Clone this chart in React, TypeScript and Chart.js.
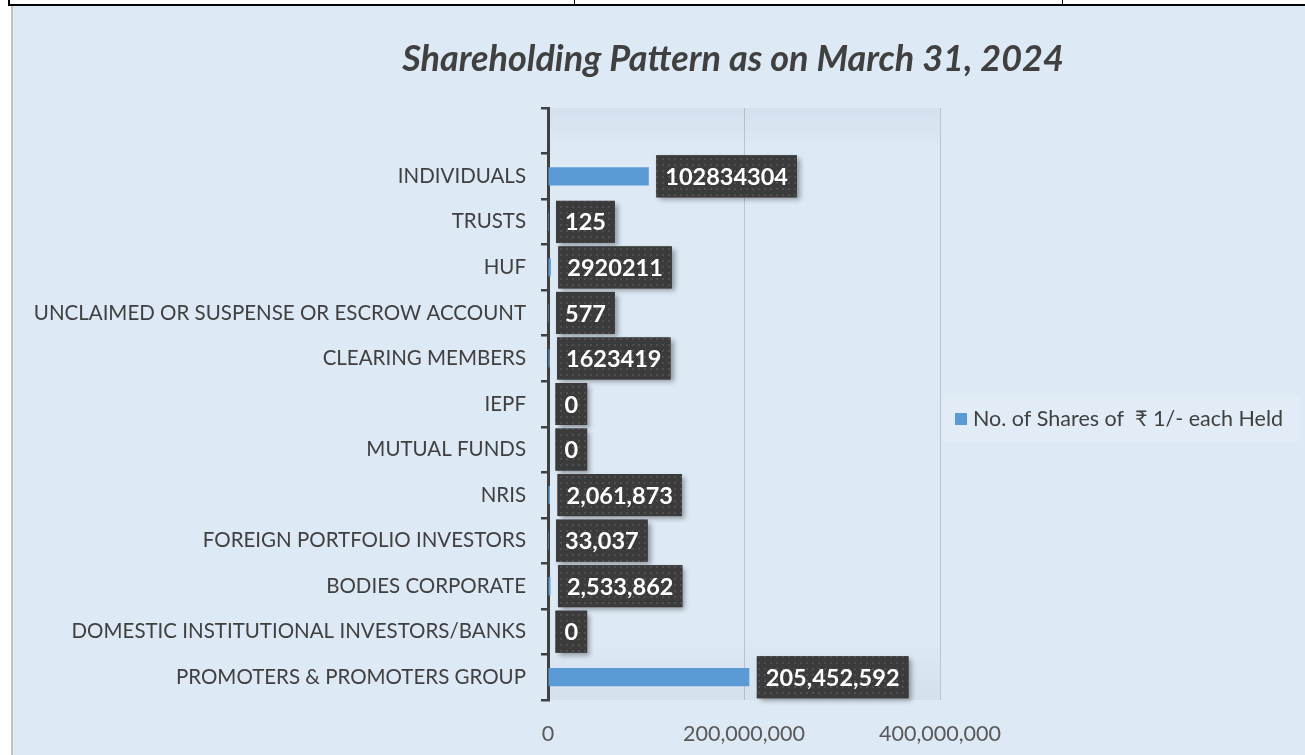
import React, { useEffect, useRef } from "react";
import { Chart, registerables } from "chart.js";

Chart.register(...registerables);

const chartTitle = "Shareholding Pattern as on March 31, 2024";
const seriesName = "No. of Shares of  ₹ 1/- each Held";

const categories = [
  "",
  "INDIVIDUALS",
  "TRUSTS",
  "HUF",
  "UNCLAIMED OR SUSPENSE OR ESCROW ACCOUNT",
  "CLEARING MEMBERS",
  "IEPF",
  "MUTUAL FUNDS",
  "NRIS",
  "FOREIGN PORTFOLIO INVESTORS",
  "BODIES CORPORATE",
  "DOMESTIC INSTITUTIONAL INVESTORS/BANKS",
  "PROMOTERS & PROMOTERS GROUP",
];

const shares: (number | null)[] = [
  null,
  102834304,
  125,
  2920211,
  577,
  1623419,
  0,
  0,
  2061873,
  33037,
  2533862,
  0,
  205452592,
];

const valueLabels = [
  "",
  "102834304",
  "125",
  "2920211",
  "577",
  "1623419",
  "0",
  "0",
  "2,061,873",
  "33,037",
  "2,533,862",
  "0",
  "205,452,592",
];

const xTicks = [0, 200000000, 400000000];

const FONT = "Lato, 'Noto Sans', 'DejaVu Sans', sans-serif";
const BAR_COLOR = "#5b9bd5";
const TEXT_COLOR = "#404040";

function makePattern(ctx: CanvasRenderingContext2D) {
  const c = document.createElement("canvas");
  c.width = 6;
  c.height = 6;
  const p = c.getContext("2d")!;
  p.fillStyle = "#3b3b3b";
  p.fillRect(0, 0, 6, 6);
  p.fillStyle = "#4f4f4f";
  p.fillRect(2, 2, 2, 2);
  return ctx.createPattern(c, "repeat");
}

const plotShade = {
  id: "plotShade",
  beforeDatasetsDraw(chart: any) {
    const { ctx, chartArea: a } = chart;
    const g = ctx.createLinearGradient(0, a.top, 0, a.bottom);
    g.addColorStop(0, "rgba(60,80,110,0.05)");
    g.addColorStop(0.07, "rgba(60,80,110,0.0)");
    g.addColorStop(0.9, "rgba(60,80,110,0.0)");
    g.addColorStop(1, "rgba(60,80,110,0.05)");
    ctx.save();
    ctx.fillStyle = g;
    ctx.fillRect(a.left, a.top, a.right - a.left, a.bottom - a.top);
    ctx.restore();
  },
};

const dataLabels = {
  id: "dataLabels",
  afterDatasetsDraw(chart: any) {
    const { ctx } = chart;
    const meta = chart.getDatasetMeta(0);
    const pattern = makePattern(ctx);
    ctx.save();
    ctx.font = `bold 23.5px ${FONT}`;
    meta.data.forEach((el: any, i: number) => {
      const v = chart.data.datasets[0].data[i];
      if (v === null || v === undefined) return;
      const text = valueLabels[i];
      const tw = ctx.measureText(text).width;
      const padX = 9;
      const h = 42;
      const x0 = Math.max(el.x, el.base) + 7.5;
      const y0 = el.y - h / 2;
      const w = tw + padX * 2;
      ctx.save();
      ctx.shadowColor = "rgba(0,0,0,0.35)";
      ctx.shadowBlur = 5;
      ctx.shadowOffsetX = 3;
      ctx.shadowOffsetY = 3;
      ctx.fillStyle = "#3b3b3b";
      ctx.fillRect(x0, y0, w, h);
      ctx.restore();
      ctx.fillStyle = pattern || "#3b3b3b";
      ctx.fillRect(x0, y0, w, h);
      ctx.fillStyle = "#ffffff";
      ctx.textAlign = "left";
      ctx.textBaseline = "middle";
      ctx.fillText(text, x0 + padX, el.y + 1);
    });
    ctx.restore();
  },
};

const titleAndLegend = {
  id: "titleAndLegend",
  afterDraw(chart: any) {
    const { ctx } = chart;
    ctx.save();
    ctx.fillStyle = TEXT_COLOR;
    ctx.font = `italic bold 36px ${FONT}`;
    ctx.textAlign = "center";
    ctx.textBaseline = "alphabetic";
    ctx.fillText(chartTitle, 733, 71);

    // legend
    ctx.fillStyle = "rgba(255,255,255,0.16)";
    ctx.fillRect(942, 396, 358, 46);
    const ds = chart.data.datasets[0];
    ctx.fillStyle = ds.backgroundColor;
    ctx.fillRect(955, 413, 12, 12);
    ctx.fillStyle = TEXT_COLOR;
    ctx.font = `21.5px ${FONT}`;
    ctx.textAlign = "left";
    ctx.textBaseline = "middle";
    ctx.fillText(ds.label, 973, 419);
    ctx.restore();
  },
};

export default function App() {
  const ref = useRef<HTMLCanvasElement | null>(null);

  useEffect(() => {
    if (!ref.current) return;
    const chart = new Chart(ref.current, {
      type: "bar",
      data: {
        labels: categories,
        datasets: [
          {
            label: seriesName,
            data: shares,
            backgroundColor: BAR_COLOR,
            borderWidth: 0,
            barPercentage: 0.4,
            categoryPercentage: 1,
          },
        ],
      },
      options: {
        indexAxis: "y",
        animation: false,
        responsive: false,
        devicePixelRatio: 1,
        layout: { padding: { left: 0, right: 365, top: 108, bottom: 0 } },
        plugins: {
          legend: { display: false },
          title: { display: false },
          tooltip: { enabled: false },
        },
        scales: {
          x: {
            type: "linear",
            min: 0,
            max: 400000000,
            afterBuildTicks: (scale: any) => {
              scale.ticks = xTicks.map((v) => ({ value: v }));
            },
            afterFit: (scale: any) => {
              scale.height = 55;
            },
            grid: {
              color: (c: any) => (c.tick && c.tick.value === 0 ? "rgba(0,0,0,0)" : "#bcc5cf"),
              lineWidth: 1,
              drawTicks: false,
            },
            border: { display: false },
            ticks: {
              color: "#595959",
              font: { family: FONT, size: 21.5 },
              padding: 21,
              maxRotation: 0,
              autoSkip: false,
              callback: (v: any) => Number(v).toLocaleString("en-US"),
            },
          },
          y: {
            type: "category",
            afterFit: (scale: any) => {
              scale.width = 548;
            },
            grid: {
              drawOnChartArea: false,
              drawTicks: true,
              tickLength: 7,
              color: "#404040",
              lineWidth: 2.5,
            },
            border: { display: true, color: "#404040", width: 3 },
            ticks: {
              color: TEXT_COLOR,
              font: { family: FONT, size: 20.5 },
              padding: 15,
              autoSkip: false,
            },
          },
        },
      },
      plugins: [plotShade, dataLabels, titleAndLegend],
    } as any);
    return () => chart.destroy();
  }, []);

  return (
    <div
      style={{
        position: "fixed",
        left: 0,
        top: 0,
        width: 1305,
        height: 755,
        background: "#ffffff",
        overflow: "hidden",
      }}
    >
      <div style={{ position: "absolute", left: 8, top: 4, width: 1297, height: 2, background: "#000" }} />
      <div style={{ position: "absolute", left: 8, top: 0, width: 2, height: 6, background: "#000" }} />
      <div style={{ position: "absolute", left: 574, top: 0, width: 1, height: 6, background: "#000" }} />
      <div style={{ position: "absolute", left: 1062, top: 0, width: 1, height: 6, background: "#000" }} />
      <div
        style={{
          position: "absolute",
          left: 11,
          top: 6,
          right: 0,
          bottom: 0,
          background: "#dde9f5",
          borderLeft: "2px solid #c2c2c2",
        }}
      />
      <canvas
        ref={ref}
        width={1305}
        height={755}
        style={{ position: "absolute", left: 0, top: 0, width: 1305, height: 755 }}
      />
    </div>
  );
}
